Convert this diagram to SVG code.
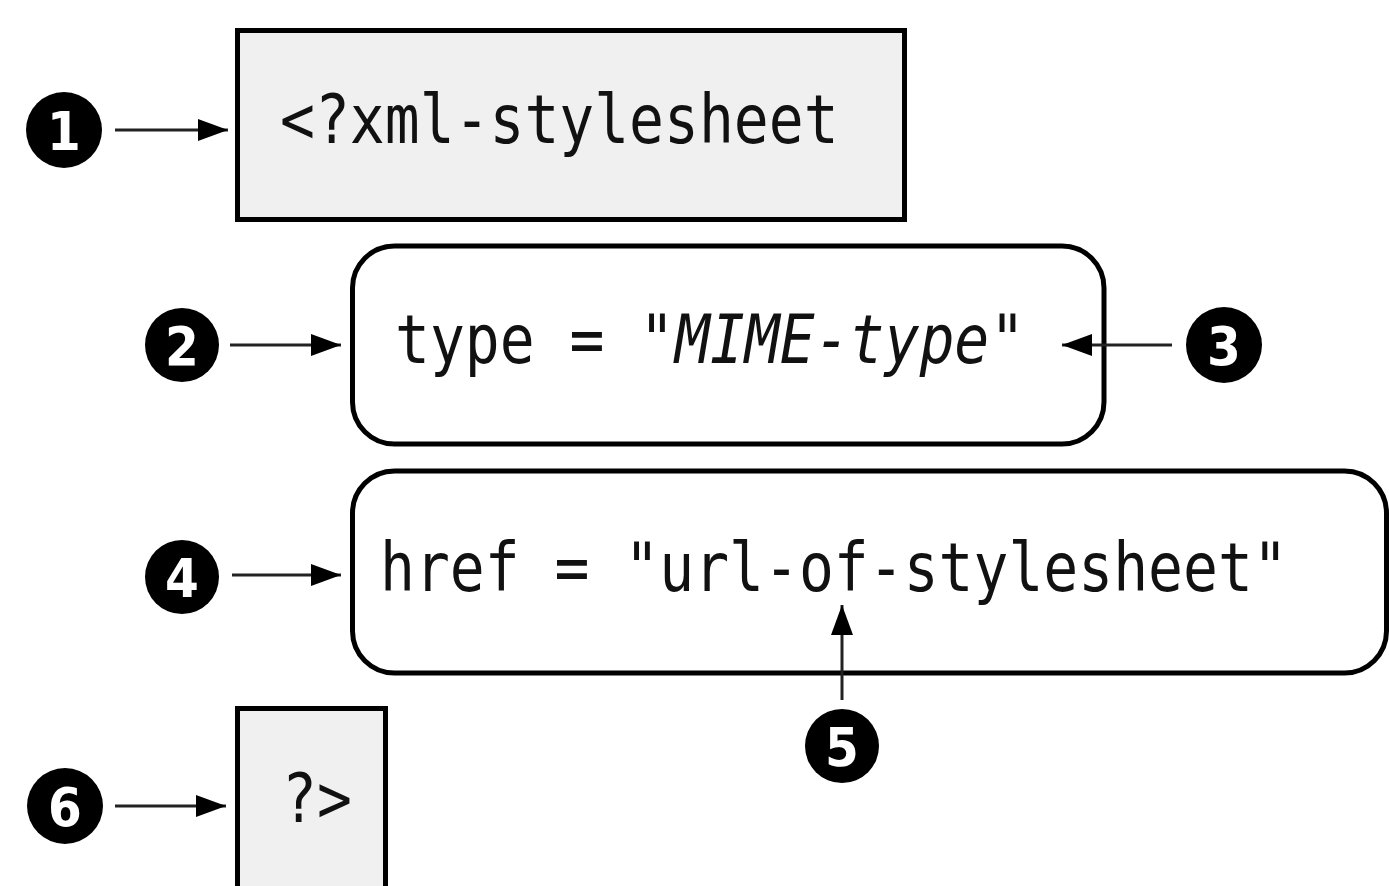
<svg xmlns="http://www.w3.org/2000/svg" width="1389" height="886" viewBox="0 0 1389 886">
  <style>
    .box { fill: #f0f0f0; stroke: #000; stroke-width: 5; }
    .rbox { fill: #fff; stroke: #000; stroke-width: 5; }
    .code { font-family: "DejaVu Sans Mono", "Liberation Mono", monospace; font-size: 58px; fill: #111; }
    .badge circle { fill: #000; }
    .badge text { font-family: "DejaVu Sans Condensed", "DejaVu Sans", sans-serif; font-stretch: condensed; font-weight: bold; font-size: 54px; fill: #fff; text-anchor: middle; }
    .conn line { stroke: #222; stroke-width: 3; }
  </style>
  <defs>
    <marker id="arrow" markerUnits="userSpaceOnUse" markerWidth="30" markerHeight="22" refX="30" refY="11" orient="auto">
      <path d="M0,0 L30,11 L0,22 z" fill="#000"/>
    </marker>
  </defs>
  <rect width="1389" height="886" fill="#fff"/>

  <!-- processing instruction parts; monospace text stretched taller -->
  <g id="pi-open">
    <rect class="box" x="237.5" y="30.5" width="667" height="189"/>
    <text class="code" transform="translate(280 143) scale(1 1.17)">&lt;?xml-stylesheet</text>
  </g>
  <g id="type-attr">
    <rect class="rbox" x="352.5" y="246" width="751.5" height="198" rx="42" ry="42"/>
    <text class="code" transform="translate(395 363) scale(1 1.17)">type = "</text>
    <text class="code" font-style="italic" transform="translate(675 363) scale(1 1.17)">MIME-type</text>
    <text class="code" transform="translate(990 363) scale(1 1.17)">"</text>
  </g>
  <g id="href-attr">
    <rect class="rbox" x="352.5" y="471" width="1034" height="202" rx="42" ry="42"/>
    <text class="code" transform="translate(380 591) scale(1 1.17)">href = "url-of-stylesheet"</text>
  </g>
  <g id="pi-close">
    <rect class="box" x="237.5" y="708.5" width="148" height="200"/>
    <text class="code" transform="translate(282 822) scale(1 1.17)">?&gt;</text>
  </g>

  <!-- numbered callouts -->
  <g id="callout-1" class="badge"><circle cx="64" cy="130" r="38"/><text x="64" y="150">1</text></g>
  <g id="callout-2" class="badge"><circle cx="182" cy="345" r="37"/><text x="182" y="365">2</text></g>
  <g id="callout-3" class="badge"><circle cx="1224" cy="345" r="38"/><text x="1224" y="365">3</text></g>
  <g id="callout-4" class="badge"><circle cx="182" cy="577" r="37"/><text x="182" y="597">4</text></g>
  <g id="callout-5" class="badge"><circle cx="842" cy="746" r="37"/><text x="842" y="766">5</text></g>
  <g id="callout-6" class="badge"><circle cx="65" cy="806" r="38"/><text x="65" y="826">6</text></g>

  <g id="connectors" class="conn">
    <line x1="115" y1="130" x2="228" y2="130" marker-end="url(#arrow)"/>
    <line x1="230" y1="345" x2="341" y2="345" marker-end="url(#arrow)"/>
    <line x1="1172" y1="345" x2="1062" y2="345" marker-end="url(#arrow)"/>
    <line x1="232" y1="575" x2="341" y2="575" marker-end="url(#arrow)"/>
    <line x1="842" y1="700" x2="842" y2="605" marker-end="url(#arrow)"/>
    <line x1="115" y1="806" x2="226" y2="806" marker-end="url(#arrow)"/>
  </g>
</svg>
